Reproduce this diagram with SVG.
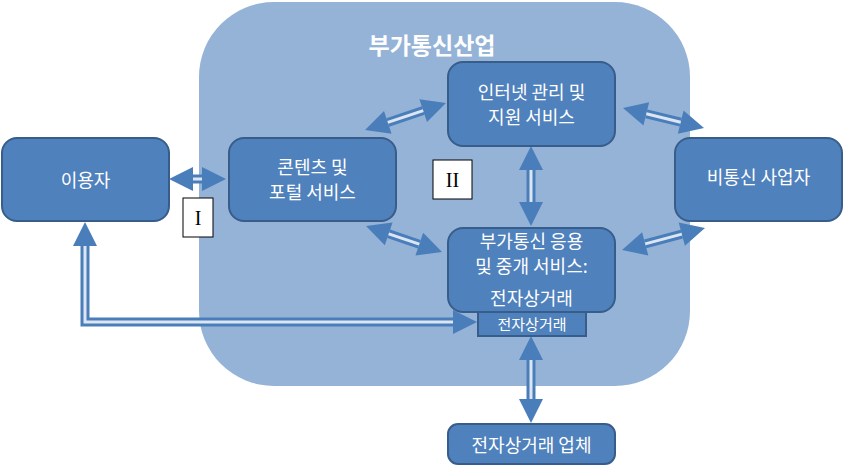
<svg xmlns="http://www.w3.org/2000/svg" width="844" height="466" viewBox="0 0 844 466">
<style>
.node{fill:#4F81BD;stroke:#385D8A;stroke-width:2}
.t{font-family:"Noto Sans CJK KR","Liberation Sans",sans-serif;font-size:18px;fill:#FFFFFF;text-anchor:middle}
.ts{font-family:"Noto Sans CJK KR","Liberation Sans",sans-serif;font-size:15px;fill:#FFFFFF;text-anchor:middle}
.title{font-family:"Noto Sans CJK KR","Liberation Sans",sans-serif;font-size:23px;font-weight:bold;fill:#FFFFFF;text-anchor:middle}
.lbl{fill:#FFFFFF;stroke:#000000;stroke-width:1}
.rn{font-family:"Liberation Serif",serif;font-size:20px;fill:#000000;text-anchor:middle}
.sh{fill:none;stroke:#4A7EBB;stroke-width:9;marker-start:url(#ah);marker-end:url(#ah)}
.shp{fill:none;stroke:#4A7EBB;stroke-width:9;marker-start:url(#ah);marker-end:url(#ah);stroke-linejoin:miter}
.in{fill:none;stroke:#DCE6F2;stroke-width:3}
</style>
<defs>
<marker id="ah" markerUnits="userSpaceOnUse" markerWidth="24" markerHeight="24" viewBox="0 0 24 24" refX="0" refY="12" orient="auto-start-reverse" overflow="visible">
<path d="M0,0 L24,12 L0,24 z" fill="#4A7EBB"/>
</marker>
</defs>
<rect width="844" height="466" fill="#FFFFFF"/>
<g id="region">
<rect x="199" y="2" width="491" height="384" rx="75" ry="75" fill="#95B3D7"/>
<text class="title" x="432" y="54">부가통신산업</text>
</g>
<g id="connectors">
<path class="sh" d="M193,179 L202,179"/>
<path class="in" d="M193,179 L202,179"/>
<path class="sh" d="M387.8,122.4 L423.2,110.6"/>
<path class="in" d="M387.8,122.4 L423.2,110.6"/>
<path class="sh" d="M646.3,113.8 L680.7,122.2"/>
<path class="in" d="M646.3,113.8 L680.7,122.2"/>
<path class="sh" d="M388.7,233.8 L419.3,244.2"/>
<path class="in" d="M388.7,233.8 L419.3,244.2"/>
<path class="sh" d="M645.2,243.9 L681.8,234.1"/>
<path class="in" d="M645.2,243.9 L681.8,234.1"/>
<path class="sh" d="M531,170 L531,202"/>
<path class="in" d="M531,170 L531,202"/>
<path class="sh" d="M531,360 L531,399"/>
<path class="in" d="M531,360 L531,399"/>
<path class="shp" d="M85,246 L85,322 L453,322"/>
<path class="in" d="M85,246 L85,322 L453,322"/>
</g>
<g id="n-user">
<rect class="node" x="2" y="138" width="167" height="83" rx="15"/>
<text class="t" x="85.5" y="187">이용자</text>
</g>
<g id="n-content">
<rect class="node" x="229" y="138" width="167" height="83" rx="15"/>
<text class="t" x="312.5" y="174">콘텐츠 및</text>
<text class="t" x="312.5" y="199">포털 서비스</text>
</g>
<g id="n-internet">
<rect class="node" x="448" y="62" width="167" height="84" rx="15"/>
<text class="t" x="531.5" y="99">인터넷 관리 및</text>
<text class="t" x="531.5" y="124">지원 서비스</text>
</g>
<g id="n-nontelecom">
<rect class="node" x="675" y="138" width="167" height="83" rx="15"/>
<text class="t" x="758.5" y="184">비통신 사업자</text>
</g>
<g id="n-vas">
<rect class="node" x="448" y="228" width="167" height="84" rx="15"/>
<text class="t" x="531.5" y="248">부가통신 응용</text>
<text class="t" x="531.5" y="272.5">및 중개 서비스:</text>
<text class="t" x="531.5" y="304.5">전자상거래</text>
</g>
<g id="n-ecom-small">
<rect class="node" x="478" y="312" width="108" height="24"/>
<text class="ts" x="532" y="330">전자상거래</text>
</g>
<g id="n-ecom-company">
<rect class="node" x="448" y="424" width="167" height="40" rx="10"/>
<text class="t" x="531.5" y="451.5">전자상거래 업체</text>
</g>
<g id="label-1">
<rect class="lbl" x="183" y="198" width="30" height="39"/>
<text class="rn" x="198" y="225">I</text>
</g>
<g id="label-2">
<rect class="lbl" x="433" y="160" width="39" height="39"/>
<text class="rn" x="452.5" y="187">II</text>
</g>
</svg>
